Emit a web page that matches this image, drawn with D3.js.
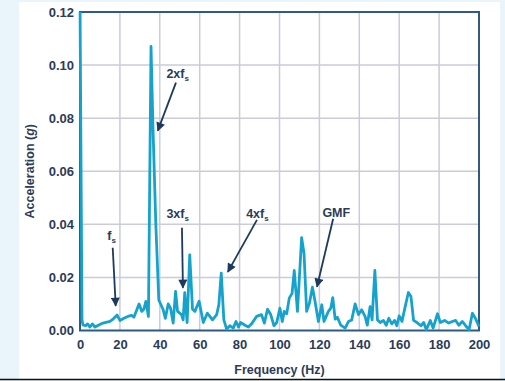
<!DOCTYPE html>
<html>
<head>
<meta charset="utf-8">
<script src="https://cdn.jsdelivr.net/npm/d3@7"></script>
<style>
  html, body { margin: 0; padding: 0; background: #eaf4fb; }
  svg { display: block; font-family: "Liberation Sans", Arial, sans-serif; }
  .tick text { font-weight: bold; font-size: 13px; fill: #2b3b58; }
  .axis_title { font-weight: bold; font-size: 12.5px; fill: #2b3b58; }
  .note { font-weight: bold; font-size: 12.5px; fill: #2b3b58; }
</style>
</head>
<body>
<svg id="chart"></svg>
<script>
// Spectrum: frequency (Hz) and acceleration (g)
const freq = [0, 1, 1.5, 2.8, 3.8, 4.9, 6.2, 7.5, 9.2, 11.5, 15, 16.6, 18.6, 20, 22, 24, 25.8, 27,
  29.6, 31, 32, 33, 34.3, 35.6, 36.6, 38, 39.5, 41.7, 42.8, 44.2, 45.4, 46.7, 47.9, 48.9, 50.9, 51.7,
  52.5, 53.7, 55, 56.4, 57.6, 59.7, 61.8, 63.8, 65.1, 66.4, 68.5, 69.6, 70.8, 72.1, 73.5, 75.1, 76.8,
  78.2, 79.5, 80.5, 82.7, 84.4, 86, 88.5, 91, 92.4, 94, 95.6, 97.2, 98.6, 100.2, 101.4, 102.4, 103.6,
  104.9, 106.3, 107.4, 109, 111.1, 112.3, 113.6, 115, 116.5, 117.8, 119.5, 121.2, 122.3, 124.5, 125.7,
  126.7, 127.9, 129, 130.7, 132.9, 134.6, 136.2, 137.9, 139.6, 141.2, 142.9, 144, 145.4, 146.4, 147.8,
  149.1, 150.5, 152.1, 153.5, 154.8, 156.3, 157.7, 158.8, 160, 161.4, 163, 164.6, 165.9, 167.2, 168.9,
  170.9, 172.3, 173.6, 175.6, 177, 179.2, 180.6, 182.8, 184.8, 186.6, 188.3, 189.9, 191.6, 193.3, 195,
  196.7, 198.4, 200];
const accel = [0.125, 0.004, 0.0021, 0.0018, 0.0025, 0.0013, 0.0025, 0.0013, 0.002, 0.0028, 0.0034, 0.0043,
  0.0058, 0.0038, 0.0046, 0.0053, 0.0057, 0.005, 0.01, 0.0072, 0.008, 0.011, 0.0053, 0.107, 0.076, 0.04,
  0.0115, 0.0078, 0.0046, 0.01, 0.0084, 0.0028, 0.0147, 0.0072, 0.006, 0.004, 0.0143, 0.003, 0.0285,
  0.008, 0.0072, 0.011, 0.003, 0.0065, 0.0053, 0.004, 0.006, 0.0097, 0.0216, 0.004, 0.0005, 0.0018,
  0.0009, 0.0034, 0.0013, 0.003, 0.002, 0.0013, 0.0025, 0.0053, 0.006, 0.0028, 0.008, 0.006, 0.0018,
  0.003, 0.0084, 0.0034, 0.0072, 0.0063, 0.0122, 0.014, 0.0226, 0.0072, 0.035, 0.029, 0.0072, 0.0103,
  0.0163, 0.011, 0.0034, 0.0097, 0.0034, 0.0072, 0.0084, 0.0124, 0.0043, 0.005, 0.002, 0.0009, 0.0034,
  0.004, 0.01, 0.006, 0.0078, 0.0053, 0.002, 0.009, 0.004, 0.0226, 0.004, 0.003, 0.0038, 0.002, 0.0046,
  0.0025, 0.0038, 0.0018, 0.0055, 0.0034, 0.009, 0.0143, 0.0128, 0.0038, 0.003, 0.0018, 0.003, 0.0003,
  0.0038, 0.0009, 0.0063, 0.003, 0.0038, 0.0028, 0.0034, 0.0038, 0.002, 0.0034, 0.0018, 0.0003, 0.0065,
  0.0043, 0.0015];

const xTicks = [0, 20, 40, 60, 80, 100, 120, 140, 160, 180, 200];
const yTicks = [0, 0.02, 0.04, 0.06, 0.08, 0.10, 0.12];

// Annotation labels: text, label position, arrow start and arrow tip (Hz, g)
const noteText = ['f', '2xf', '3xf', '4xf', 'GMF'];
const noteSub = ['s', 's', 's', 's', ''];
const noteAt = [[13.7, 0.0342], [43.3, 0.0953], [43.3, 0.0425], [83.3, 0.0425], [121.5, 0.0428]];
const arrowFrom = [[16.4, 0.0312], [48.1, 0.0934], [51.1, 0.0387], [88.7, 0.0417], [126.9, 0.0421]];
const arrowTo = [[17.9, 0.0093], [39.0, 0.0753], [51.6, 0.0161], [74.1, 0.0221], [118.8, 0.0165]];

const W = 505, H = 381;
const margin = {top: 12, right: 26, bottom: 51, left: 80};
const width = 479 - margin.left, height = 330.5 - margin.top;

const svg = d3.select('#chart').attr('width', W).attr('height', H);

// page background: light blue frame with white panel
svg.append('rect').attr('width', W).attr('height', H).attr('fill', '#eaf4fb');
svg.append('rect').attr('x', 19).attr('y', 2).attr('width', 481).attr('height', 377).attr('fill', '#ffffff');
svg.append('line').attr('x1', 0).attr('x2', W).attr('y1', 379.5).attr('y2', 379.5)
  .attr('stroke', '#111').attr('stroke-width', 1.5);

const chart = svg.append('g').attr('transform', `translate(${margin.left},${margin.top})`);

const xScale = d3.scaleLinear().domain([0, 200]).range([0, width]);
const yScale = d3.scaleLinear().domain([0, 0.12]).range([height, 0]);

// grid
chart.append('g').selectAll('line').data(xTicks.slice(1, -1)).join('line')
  .attr('x1', d => xScale(d)).attr('x2', d => xScale(d))
  .attr('y1', 0).attr('y2', height)
  .attr('stroke', '#cbcbdb').attr('stroke-width', 1.5);
chart.append('g').selectAll('line').data(yTicks.slice(1, -1)).join('line')
  .attr('y1', d => yScale(d)).attr('y2', d => yScale(d))
  .attr('x1', 0).attr('x2', width)
  .attr('stroke', '#cbcbdb').attr('stroke-width', 1.5);

// axes
const xAxisG = chart.append('g').attr('transform', `translate(0,${height})`)
  .call(d3.axisBottom(xScale).tickValues(xTicks).tickSize(0).tickPadding(9).tickFormat(d3.format('d')));
const yAxisG = chart.append('g')
  .call(d3.axisLeft(yScale).tickValues(yTicks).tickSize(0).tickPadding(6).tickFormat(d3.format('.2f')));
xAxisG.select('.domain').remove();
yAxisG.select('.domain').remove();
svg.selectAll('.tick text').attr('font-family', null);

// frame
chart.append('rect').attr('width', width).attr('height', height)
  .attr('fill', 'none').attr('stroke', '#2d5b82').attr('stroke-width', 2);

// spectrum line
chart.append('clipPath').attr('id', 'clip').append('rect')
  .attr('x', -2).attr('y', 0).attr('width', width + 4).attr('height', height + 2);
const line = d3.line().x((d, i) => xScale(freq[i])).y(d => yScale(d));
chart.append('path').datum(accel)
  .attr('clip-path', 'url(#clip)')
  .attr('fill', 'none').attr('stroke', '#15a3cd').attr('stroke-width', 2.8)
  .attr('stroke-linejoin', 'round').attr('d', line);

// arrows
svg.append('defs').append('marker').attr('id', 'head')
  .attr('viewBox', '0 0 10 10').attr('refX', 9).attr('refY', 5)
  .attr('markerWidth', 6).attr('markerHeight', 5).attr('orient', 'auto')
  .append('path').attr('d', 'M0,0L10,5L0,10z').attr('fill', '#1d3a5c');

chart.append('g').selectAll('line').data(arrowFrom).join('line')
  .attr('x1', d => xScale(d[0])).attr('y1', d => yScale(d[1]))
  .attr('x2', (d, i) => xScale(arrowTo[i][0])).attr('y2', (d, i) => yScale(arrowTo[i][1]))
  .attr('stroke', '#1d3a5c').attr('stroke-width', 1.8)
  .attr('marker-end', 'url(#head)');

const notes = chart.append('g').selectAll('text').data(noteText).join('text')
  .attr('class', 'note')
  .attr('x', (d, i) => xScale(noteAt[i][0])).attr('y', (d, i) => yScale(noteAt[i][1]));
notes.append('tspan').text(d => d);
notes.append('tspan').attr('dy', 3).attr('font-size', '8px').text((d, i) => noteSub[i]);

// axis titles
chart.append('text').attr('class', 'axis_title')
  .attr('x', width / 2).attr('y', height + 43).attr('text-anchor', 'middle')
  .text('Frequency (Hz)');
const yTitle = chart.append('text').attr('class', 'axis_title')
  .attr('transform', `translate(-46,${height / 2}) rotate(-90)`)
  .attr('text-anchor', 'middle');
yTitle.append('tspan').text('Acceleration (');
yTitle.append('tspan').attr('font-style', 'italic').text('g');
yTitle.append('tspan').text(')');
</script>
</body>
</html>
